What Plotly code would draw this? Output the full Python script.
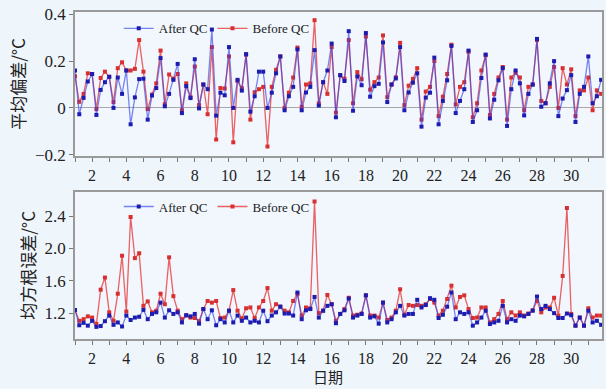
import plotly.graph_objects as go

# Mean bias (°C), 6-hourly from day 1.00 to 31.75
bias_after = [0.16, -0.027, 0.043, 0.113, 0.145, -0.03, 0.077, 0.11, 0.133, 0.0,
              0.13, 0.06, 0.16, -0.07, 0.045, 0.123, 0.125, -0.05, 0.053, 0.085,
              0.213, 0.007, 0.06, 0.12, 0.188, -0.022, 0.093, 0.042, 0.208, -0.002,
              0.1, 0.08, 0.335, -0.033, 0.065, 0.054, 0.26, 0.0, 0.12, 0.074,
              0.23, -0.016, 0.05, 0.155, 0.155, 0.0, 0.065, 0.148, 0.22, -0.01,
              0.05, 0.09, 0.25, -0.01, 0.066, 0.09, 0.247, 0.01, 0.11, 0.16,
              0.275, -0.04, 0.14, 0.115, 0.328, -0.012, 0.135, 0.097, 0.32, 0.048,
              0.093, 0.103, 0.28, 0.025, 0.1, 0.126, 0.26, -0.01, 0.066, 0.108,
              0.148, -0.08, 0.044, 0.065, 0.215, -0.07, 0.03, 0.118, 0.265, -0.022,
              0.03, 0.08, 0.245, -0.06, -0.01, 0.128, 0.228, -0.045, 0.035, 0.118,
              0.17, -0.077, 0.08, 0.16, 0.105, -0.032, 0.06, 0.1, 0.295, 0.005,
              0.02, 0.105, 0.2, -0.035, 0.04, 0.076, 0.14, -0.06, 0.06, 0.09,
              0.22, 0.02, 0.05, 0.12]
bias_before = [0.135, 0.026, 0.06, 0.148, 0.145, -0.005, 0.128, 0.155, 0.133, 0.025,
               0.17, 0.195, 0.16, 0.16, 0.167, 0.29, 0.155, -0.005, 0.057, 0.105,
               0.245, 0.016, 0.143, 0.125, 0.145, -0.01, 0.105, 0.046, 0.177, 0.012,
               0.1, -0.027, 0.26, -0.135, 0.085, 0.083, 0.22, -0.147, 0.115, 0.085,
               0.227, -0.05, 0.067, 0.08, 0.09, -0.165, 0.09, 0.163, 0.22, 0.0,
               0.065, 0.13, 0.258, 0.005, 0.1, 0.105, 0.375, 0.02, 0.11, 0.06,
               0.26, -0.02, 0.14, 0.125, 0.29, 0.02, 0.153, 0.123, 0.305, 0.078,
               0.11, 0.13, 0.31, 0.046, 0.1, 0.131, 0.278, 0.012, 0.095, 0.124,
               0.17, -0.05, 0.07, 0.09, 0.2, -0.035, 0.048, 0.145, 0.27, 0.015,
               0.09, 0.11, 0.24, -0.04, 0.02, 0.16, 0.225, -0.03, 0.06, 0.13,
               0.175, -0.05, 0.13, 0.15, 0.13, -0.01, 0.09, 0.1, 0.29, 0.03,
               0.02, 0.09, 0.175, 0.0, 0.17, 0.1, 0.165, -0.035, 0.075, 0.075,
               0.13, -0.01, 0.075, 0.06]

# RMSE (°C)
rmse_after = [1.24, 1.05, 1.08, 1.045, 1.105, 1.03, 1.04, 1.10, 1.17, 1.055,
              1.085, 1.035, 1.17, 1.115, 1.145, 1.155, 1.24, 1.125, 1.19, 1.21,
              1.33, 1.145, 1.235, 1.19, 1.21, 1.085, 1.175, 1.16, 1.19, 1.07,
              1.25, 1.125, 1.235, 1.05, 1.125, 1.085, 1.23, 1.085, 1.17, 1.105,
              1.145, 1.085, 1.105, 1.085, 1.23, 1.10, 1.17, 1.21, 1.28, 1.195,
              1.195, 1.17, 1.455, 1.125, 1.235, 1.25, 1.40, 1.145, 1.23, 1.29,
              1.31, 1.075, 1.19, 1.235, 1.38, 1.145, 1.17, 1.19, 1.42, 1.145,
              1.16, 1.07, 1.33, 1.085, 1.125, 1.21, 1.29, 1.17, 1.19, 1.19,
              1.365, 1.27, 1.3, 1.385, 1.365, 1.14, 1.18, 1.28, 1.455, 1.125,
              1.21, 1.19, 1.21, 1.045, 1.085, 1.145, 1.23, 1.065, 1.085, 1.105,
              1.29, 1.085, 1.125, 1.105, 1.17, 1.16, 1.19, 1.23, 1.405, 1.25,
              1.29, 1.25, 1.2, 1.14, 1.14, 1.195, 1.175, 1.045, 1.145, 1.045,
              1.23, 1.085, 1.105, 1.055]
rmse_before = [1.24, 1.105, 1.125, 1.16, 1.145, 1.065, 1.49, 1.64, 1.21, 1.105,
               1.44, 1.91, 1.22, 2.39, 1.88, 1.94, 1.29, 1.345, 1.21, 1.23,
               1.44, 1.31, 1.89, 1.41, 1.23, 1.125, 1.17, 1.145, 1.14, 1.1,
               1.25, 1.35, 1.33, 1.35, 1.14, 1.145, 1.23, 1.485, 1.23, 1.135,
               1.26, 1.27, 1.14, 1.27, 1.35, 1.51, 1.23, 1.31, 1.28, 1.23,
               1.21, 1.35, 1.435, 1.17, 1.27, 1.26, 2.58, 1.2, 1.23, 1.425,
               1.31, 1.105, 1.19, 1.25, 1.39, 1.17, 1.18, 1.195, 1.42, 1.17,
               1.17, 1.145, 1.33, 1.115, 1.145, 1.23, 1.495, 1.18, 1.3, 1.29,
               1.3, 1.29, 1.31, 1.375, 1.33, 1.17, 1.23, 1.375, 1.54, 1.27,
               1.4, 1.42, 1.25, 1.14, 1.145, 1.27, 1.27, 1.085, 1.125, 1.19,
               1.35, 1.125, 1.21, 1.17, 1.21, 1.17, 1.195, 1.235, 1.35, 1.21,
               1.27, 1.27, 1.39, 1.17, 1.66, 2.5, 1.19, 1.045, 1.145, 1.045,
               1.26, 1.145, 1.17, 1.17]

days = [1 + 0.25 * i for i in range(len(bias_after))]
x_tick_vals = list(range(2, 31, 2))
x_tick_text = [str(v) for v in x_tick_vals]
bias_ticks = [-0.2, 0, 0.2, 0.4]
bias_tick_text = ["\u22120.2", "0", "0.2", "0.4"]
rmse_ticks = [1.2, 1.6, 2.0, 2.4]
rmse_tick_text = ["1.2", "1.6", "2.0", "2.4"]

SERIF = "Liberation Serif, Times New Roman, serif"
CJK = "Noto Sans CJK SC"
BLUE_LINE = "rgba(45,60,235,0.62)"
BLUE_MK = "#1c1cb0"
RED_LINE = "rgba(232,80,80,0.9)"
RED_MK = "#d83030"

fig = go.Figure()

def add(x, y, name, xa, ya, lg, line, mk):
    fig.add_trace(go.Scatter(
        x=x, y=y, name=name, mode="lines+markers", xaxis=xa, yaxis=ya, legend=lg,
        line=dict(color=line, width=1.3),
        marker=dict(color=mk, size=4, symbol="square"),
    ))

add(days, bias_before, "Before QC", "x", "y", "legend", RED_LINE, RED_MK)
add(days, bias_after, "After QC", "x", "y", "legend", BLUE_LINE, BLUE_MK)
add(days, rmse_before, "Before QC", "x2", "y2", "legend2", RED_LINE, RED_MK)
add(days, rmse_after, "After QC", "x2", "y2", "legend2", BLUE_LINE, BLUE_MK)

frame = "#9a9a9a"
xcommon = dict(
    range=[1, 31.8], showgrid=False, zeroline=False,
    showline=True, mirror=True, linecolor=frame, linewidth=1.5,
    tickvals=x_tick_vals, ticktext=x_tick_text,
    ticks="outside", ticklen=4, tickcolor="#777",
    minor=dict(dtick=1, tick0=0, ticks="outside", ticklen=4, tickcolor="#777"),
    tickfont=dict(family=SERIF, size=16, color="#222"),
)
fig.update_layout(
    width=606, height=389,
    margin=dict(l=75, r=2, t=12, b=50),
    paper_bgcolor="#eef5fb", plot_bgcolor="#f1f7fd",
    showlegend=True,
    xaxis=dict(domain=[0, 1], anchor="y", **xcommon),
    xaxis2=dict(domain=[0, 1], anchor="y2", **xcommon),
    yaxis=dict(domain=[0.56, 1], anchor="x", range=[-0.205, 0.41],
               tickvals=bias_ticks, ticktext=bias_tick_text,
               showgrid=False, zeroline=True, zerolinecolor="#a8a8a8", zerolinewidth=1,
               showline=True, mirror=True, linecolor=frame, linewidth=1.5,
               ticks="outside", ticklen=4, tickcolor="#777",
               tickfont=dict(family=SERIF, size=17, color="#222"),
               title=dict(text="平均偏差/°C", font=dict(family=CJK, size=17, color="#222"), standoff=5)),
    yaxis2=dict(domain=[0, 0.45], anchor="x2", range=[0.88, 2.7],
                tickvals=rmse_ticks, ticktext=rmse_tick_text,
                showgrid=False, zeroline=False,
                showline=True, mirror=True, linecolor=frame, linewidth=1.5,
                ticks="outside", ticklen=4, tickcolor="#777",
                tickfont=dict(family=SERIF, size=17, color="#222"),
                title=dict(text="均方根误差/°C", font=dict(family=CJK, size=17, color="#222"), standoff=5)),
    legend=dict(orientation="h", x=0.083, y=0.95, xanchor="left", yanchor="middle",
                traceorder="reversed", bgcolor="rgba(0,0,0,0)",
                font=dict(family=SERIF, size=13, color="#222"), itemwidth=30),
    legend2=dict(orientation="h", x=0.083, y=0.405, xanchor="left", yanchor="middle",
                 traceorder="reversed", bgcolor="rgba(0,0,0,0)",
                 font=dict(family=SERIF, size=13, color="#222"), itemwidth=30),
    annotations=[dict(text="日期", xref="paper", yref="paper", x=0.48, y=-50 / 327,
                      xanchor="center", yanchor="bottom", showarrow=False,
                      font=dict(family=CJK, size=15, color="#222"))],
)

fig.write_html("out.html")
